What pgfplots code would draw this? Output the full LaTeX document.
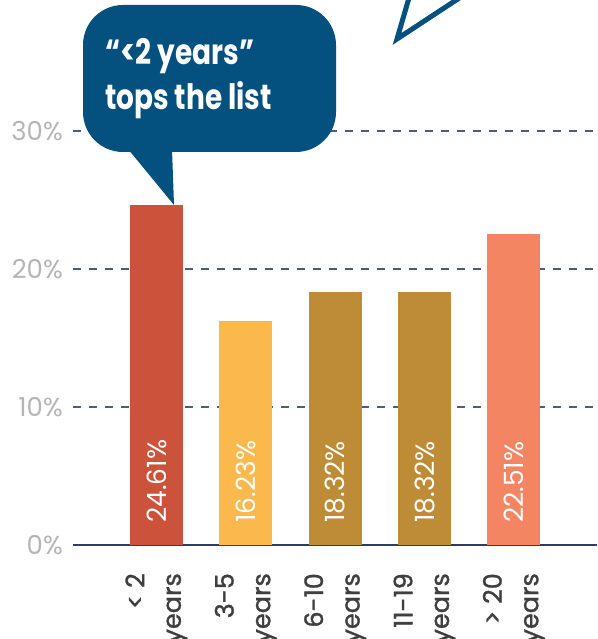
\documentclass[border=0pt]{standalone}
\usepackage{fontspec}
\setmainfont{Poppins}
\newfontfamily\callfont[FakeStretch=0.8]{Poppins}
\newfontfamily\tickfont[FakeBold=1.2]{Poppins}
\usepackage{pgfplots}
\pgfplotsset{compat=1.18}
\definecolor{cA}{HTML}{CD523C}
\definecolor{cB}{HTML}{FBB84C}
\definecolor{cC}{HTML}{BE8C37}
\definecolor{cD}{HTML}{F38562}
\definecolor{gridblue}{HTML}{4A5B8C}
\definecolor{axisnavy}{HTML}{2E3B6B}
\definecolor{ticklight}{HTML}{B5B5B5}
\definecolor{tickdark}{HTML}{3F3F3F}
\definecolor{bubble}{HTML}{04507F}
\begin{document}
\begin{tikzpicture}[x=1pt,y=1pt]
\begin{axis}[
  at={(73pt,94pt)}, anchor=south west,
  scale only axis, width=524pt, height=545pt,
  xmin=-0.934, xmax=4.93, ymin=0, ymax=39.49,
  axis x line*=bottom, axis y line*=left,
  y axis line style={draw=none},
  x axis line style={draw=axisnavy, line width=1.5pt, -},
  major tick length=0pt,
  xtick={0,1,2,3,4},
  xticklabels={{< 2\\years},{3-5\\years},{6-10\\years},{11-19\\years},{> 20\\years}},
  xticklabel style={rotate=90, anchor=east, align=right, inner sep=0pt,
     font=\tickfont\fontsize{25.5}{36.5}\selectfont, text=tickdark},
  xticklabel shift=28pt,
  ytick={0,10,20,30}, yticklabels={0\%,10\%,20\%,30\%},
  yticklabel style={anchor=east, inner sep=0pt, font=\fontsize{26}{26}\selectfont, text=ticklight},
  yticklabel shift=10pt,
  ymajorgrids, grid style={gridblue, line width=1.3pt, dash pattern=on 8pt off 8pt},
  clip=false,
]
\addplot[ybar, bar width=0.593, bar shift=0, fill=cA, draw=none] coordinates {(0,24.61)};
\addplot[ybar, bar width=0.593, bar shift=0, fill=cB, draw=none] coordinates {(1,16.23)};
\addplot[ybar, bar width=0.593, bar shift=0, fill=cC, draw=none] coordinates {(2,18.32)};
\addplot[ybar, bar width=0.593, bar shift=0, fill=cC, draw=none] coordinates {(3,18.32)};
\addplot[ybar, bar width=0.593, bar shift=0, fill=cD, draw=none] coordinates {(4,22.51)};
\addplot[draw=none, mark=none, point meta=explicit symbolic, nodes near coords,
  nodes near coords style={rotate=90, anchor=west, inner sep=0pt, text=white,
     font=\fontsize{26.5}{26.5}\selectfont}]
  coordinates {(0,1.6)[24.61\%] (1,1.6)[16.23\%] (2,1.6)[18.32\%] (3,1.6)[18.32\%] (4,1.6)[22.51\%]};
\end{axis}
% callout bubble
\fill[bubble, rounded corners=40pt] (83,487) rectangle (336,634);
\fill[bubble] (128,490) -- (174,434) -- (172,490) -- cycle;
\node[anchor=base west, inner sep=0pt, text=white, font=\callfont\bfseries\fontsize{35}{35}\selectfont] at (105,574) {“<2 years”};
\node[anchor=base west, inner sep=0pt, text=white, font=\callfont\bfseries\fontsize{35}{35}\selectfont] at (105,529) {tops the list};
% partial outlined tail at top
\draw[bubble, line width=5pt, fill=white, miter limit=10] (411,648) -- (397,600) -- (470,648);
\pgfresetboundingbox
\useasboundingbox (0,0) rectangle (597,639);
\end{tikzpicture}
\end{document}
